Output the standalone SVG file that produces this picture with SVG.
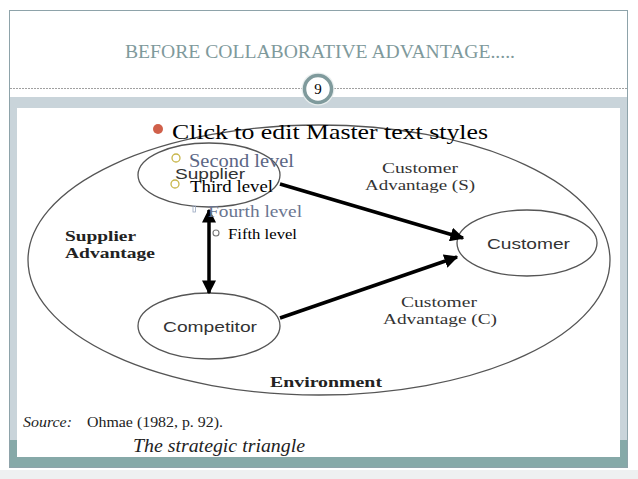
<svg xmlns="http://www.w3.org/2000/svg" width="638" height="479" viewBox="0 0 638 479">
<defs>
<style>
.ell{fill:none;stroke:#555;stroke-width:1.3}
.node{font-family:"Liberation Sans",Arial,sans-serif;font-size:15px;fill:#333;text-anchor:middle}
.lab{font-family:"Liberation Serif","Times New Roman",serif;font-size:14px;fill:#333;text-anchor:middle}
.bold{font-family:"Liberation Serif","Times New Roman",serif;font-size:14px;font-weight:bold;fill:#222}
.conn{stroke:#000;stroke-width:3.5;fill:none}
.mt{font-family:"Liberation Serif","Times New Roman",serif}
</style>
<marker id="ah" viewBox="0 0 10 10" refX="9" refY="5" markerWidth="4" markerHeight="4" orient="auto-start-reverse" markerUnits="strokeWidth">
<path d="M0,0 L10,5 L0,10 z" fill="#000"/>
</marker>
</defs>
<rect width="638" height="479" fill="#fff"/>
<rect x="0" y="470" width="638" height="9" fill="#eef0f1"/>
<rect x="9.5" y="10.5" width="618" height="457" fill="#fff" stroke="#8ea3aa" stroke-width="1"/>
<text x="320" y="58" class="mt" font-size="19" fill="#7f9a9c" text-anchor="middle" textLength="390" lengthAdjust="spacingAndGlyphs">BEFORE COLLABORATIVE ADVANTAGE.....</text>
<line x1="10" y1="88.5" x2="302" y2="88.5" stroke="#777" stroke-width="0.7" stroke-dasharray="2,1"/>
<line x1="334" y1="88.5" x2="627" y2="88.5" stroke="#777" stroke-width="0.7" stroke-dasharray="2,1"/>
<rect x="10" y="97" width="617" height="11" fill="#c9d4da"/>
<rect x="10" y="97" width="7" height="360" fill="#c9d4da"/>
<rect x="620" y="97" width="7" height="360" fill="#c9d4da"/>
<rect x="10" y="440" width="7" height="27" fill="#86a9a8"/>
<rect x="620" y="440" width="7" height="27" fill="#86a9a8"/>
<rect x="10" y="457" width="617" height="10" fill="#86a9a8"/>
<rect x="17" y="108" width="603" height="349" fill="#fff"/>
<circle cx="318" cy="89" r="16.5" fill="#e8eeee"/>
<circle cx="318" cy="89" r="13.5" fill="#fff" stroke="#7f9a9c" stroke-width="3.5"/>
<text x="318" y="94" class="mt" font-size="15" fill="#000" text-anchor="middle">9</text>

<g id="environment">
<ellipse cx="319" cy="260" rx="291" ry="135" class="ell"/>
<text x="270" y="387" class="bold" textLength="112" lengthAdjust="spacingAndGlyphs">Environment</text>
</g>
<g id="supplier-advantage">
<text x="65" y="241" class="bold" textLength="71" lengthAdjust="spacingAndGlyphs">Supplier</text>
<text x="65" y="258" class="bold" textLength="90" lengthAdjust="spacingAndGlyphs">Advantage</text>
</g>
<g id="supplier">
<ellipse cx="209" cy="175" rx="71" ry="32" class="ell"/>
<text x="175" y="179" class="node" style="text-anchor:start" font-size="16" fill="#444" textLength="70" lengthAdjust="spacingAndGlyphs">Supplier</text>
</g>
<g id="competitor">
<ellipse cx="209" cy="326" rx="71" ry="33" class="ell"/>
<text x="163" y="332" class="node" style="text-anchor:start" textLength="94" lengthAdjust="spacingAndGlyphs">Competitor</text>
</g>
<g id="customer">
<ellipse cx="527" cy="243" rx="70" ry="33" class="ell"/>
<text x="487" y="249" class="node" style="text-anchor:start" textLength="83" lengthAdjust="spacingAndGlyphs">Customer</text>
</g>
<g id="label-s">
<text x="420" y="173" class="lab" textLength="76" lengthAdjust="spacingAndGlyphs">Customer</text>
<text x="420" y="190" class="lab" textLength="110" lengthAdjust="spacingAndGlyphs">Advantage (S)</text>
</g>
<g id="label-c">
<text x="439" y="307" class="lab" textLength="76" lengthAdjust="spacingAndGlyphs">Customer</text>
<text x="440" y="324" class="lab" textLength="114" lengthAdjust="spacingAndGlyphs">Advantage (C)</text>
</g>
<g id="connectors">
<line x1="209" y1="210" x2="209" y2="293" class="conn" marker-start="url(#ah)" marker-end="url(#ah)"/>
<line x1="280" y1="184" x2="463" y2="238" class="conn" marker-end="url(#ah)"/>
<line x1="280" y1="318" x2="457" y2="257" class="conn" marker-end="url(#ah)"/>
</g>

<g id="master-text">
<circle cx="158" cy="129" r="5" fill="#d0604a"/>
<text x="172" y="139" class="mt" font-size="22" fill="#000" textLength="316" lengthAdjust="spacingAndGlyphs">Click to edit Master text styles</text>
<circle cx="176" cy="158" r="4" fill="none" stroke="#c8b64a" stroke-width="1.3"/>
<text x="189" y="167" class="mt" font-size="18" fill="#5b6685" textLength="105" lengthAdjust="spacingAndGlyphs">Second level</text>
<circle cx="175" cy="184" r="4" fill="none" stroke="#c8b64a" stroke-width="1.3"/>
<text x="190" y="192" class="mt" font-size="16" fill="#000" textLength="83" lengthAdjust="spacingAndGlyphs">Third level</text>
<rect x="193" y="206" width="2.5" height="6" fill="none" stroke="#9aa8c0" stroke-width="0.8"/>
<text x="208" y="217" class="mt" font-size="16" fill="#6a7590" textLength="94" lengthAdjust="spacingAndGlyphs">Fourth level</text>
<circle cx="216" cy="233" r="3" fill="none" stroke="#777" stroke-width="1.1"/>
<text x="228" y="239" class="mt" font-size="14" fill="#000" textLength="69" lengthAdjust="spacingAndGlyphs">Fifth level</text>
</g>

<g id="source">
<text x="23" y="427" class="mt" font-size="14" font-style="italic" fill="#222" textLength="49" lengthAdjust="spacingAndGlyphs">Source:</text>
<text x="87" y="427" class="mt" font-size="14" fill="#222" textLength="136" lengthAdjust="spacingAndGlyphs">Ohmae (1982, p. 92).</text>
<text x="133" y="452" class="mt" font-size="18" font-style="italic" fill="#222" textLength="172" lengthAdjust="spacingAndGlyphs">The strategic triangle</text>
</g>
</svg>
